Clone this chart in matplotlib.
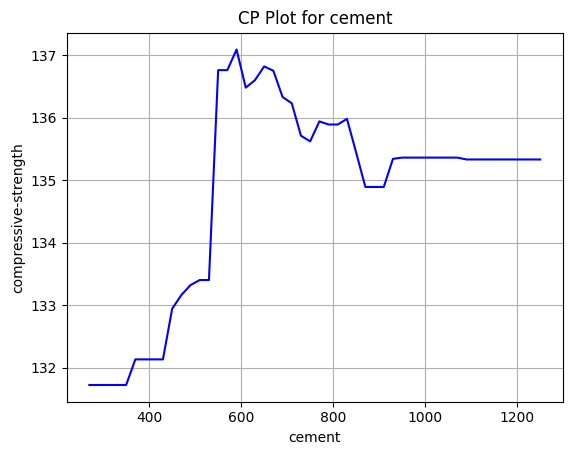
import numpy as np
import matplotlib
matplotlib.use('Agg')
import matplotlib.pyplot as plt

cement = [270, 290, 310, 330, 350, 370, 390, 410, 430, 450,
          470, 490, 510, 530, 550, 570, 590, 610, 630, 650,
          670, 690, 710, 730, 750, 770, 790, 810, 830, 850,
          870, 890, 910, 930, 950, 970, 990, 1010, 1030, 1050,
          1070, 1090, 1110, 1130, 1150, 1170, 1190, 1210, 1230, 1250]
strength = [131.72, 131.72, 131.72, 131.72, 131.72, 132.13, 132.13, 132.13, 132.13, 132.94,
            133.16, 133.32, 133.40, 133.40, 136.76, 136.76, 137.09, 136.48, 136.60, 136.82,
            136.75, 136.33, 136.23, 135.71, 135.62, 135.94, 135.89, 135.89, 135.98, 135.44,
            134.89, 134.89, 134.89, 135.34, 135.36, 135.36, 135.36, 135.36, 135.36, 135.36,
            135.36, 135.33, 135.33, 135.33, 135.33, 135.33, 135.33, 135.33, 135.33, 135.33]

fig, ax = plt.subplots(figsize=(5.71, 4.55), dpi=100)
fig.subplots_adjust(left=0.117, right=0.9855, top=0.928, bottom=0.117)

ax.plot(cement, strength, color='blue')
ax.set_title('CP Plot for cement')
ax.set_xlabel('cement')
ax.set_ylabel('compressive-strength')
ax.grid(True)

plt.savefig('out.png')
